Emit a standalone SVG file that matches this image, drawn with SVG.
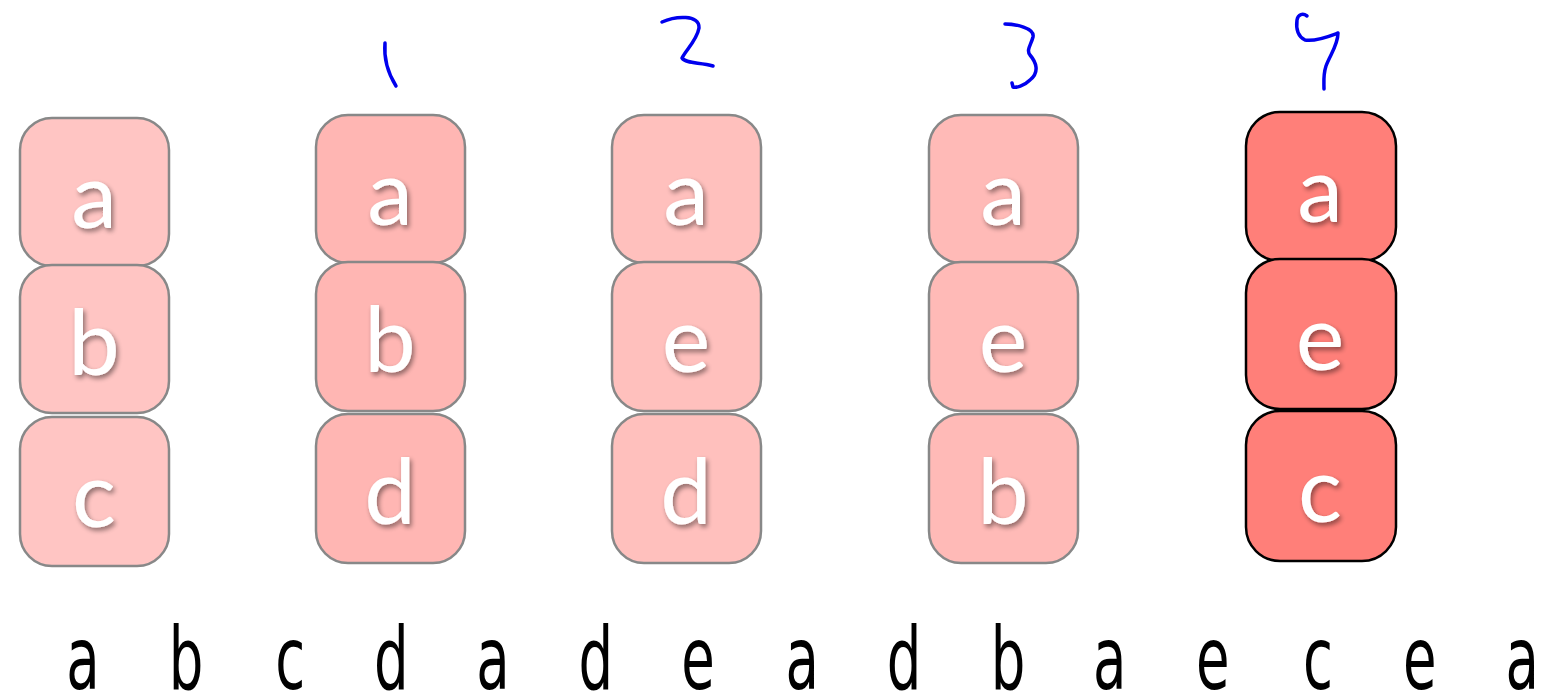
<svg xmlns="http://www.w3.org/2000/svg" width="1550" height="699" viewBox="0 0 1550 699">
<defs>
<filter id="sh" x="-30%" y="-30%" width="160%" height="160%">
<feGaussianBlur in="SourceAlpha" stdDeviation="2.5"/>
<feOffset dx="2" dy="3" result="b"/>
<feComponentTransfer><feFuncA type="linear" slope="0.45"/></feComponentTransfer>
<feMerge><feMergeNode/><feMergeNode in="SourceGraphic"/></feMerge>
</filter>
</defs>
<style>
.bx{stroke:#888888;stroke-width:2.5}
.c1{fill:#ffc5c3}.c2{fill:#ffb6b3}.c3{fill:#ffc0bd}.c4{fill:#ffbab7}
.c5{fill:#ff7f79;stroke:#000;stroke-width:2.5}
.lb{font-family:Lato,"Open Sans",sans-serif;font-size:92px;fill:#fff;text-anchor:middle;filter:url(#sh)}
.hw{fill:none;stroke:#0000ee;stroke-width:3.5;stroke-linecap:round;stroke-linejoin:round}
.sq{font-family:"DejaVu Sans",sans-serif;font-size:88px;fill:#000;text-anchor:middle}
</style>
<g id="col1">
<g id="n1a"><rect class="bx c1" x="20" y="118" width="149" height="148" rx="32"/><text class="lb" x="94" y="228">a</text></g>
<g id="n1b"><rect class="bx c1" x="20" y="265" width="149" height="148" rx="32"/><text class="lb" x="94" y="375">b</text></g>
<g id="n1c"><rect class="bx c1" x="20" y="417" width="149" height="149" rx="32"/><text class="lb" x="94" y="527">c</text></g>
</g>
<g id="col2">
<g id="n2a"><rect class="bx c2" x="316" y="115" width="149" height="148" rx="32"/><text class="lb" x="390" y="225">a</text></g>
<g id="n2b"><rect class="bx c2" x="316" y="262" width="149" height="149" rx="32"/><text class="lb" x="390" y="372">b</text></g>
<g id="n2d"><rect class="bx c2" x="316" y="414" width="149" height="149" rx="32"/><text class="lb" x="390" y="524">d</text></g>
</g>
<g id="col3">
<g id="n3a"><rect class="bx c3" x="612" y="115" width="149" height="148" rx="32"/><text class="lb" x="686" y="225">a</text></g>
<g id="n3e"><rect class="bx c3" x="612" y="262" width="149" height="149" rx="32"/><text class="lb" x="686" y="372">e</text></g>
<g id="n3d"><rect class="bx c3" x="612" y="414" width="149" height="149" rx="32"/><text class="lb" x="686" y="524">d</text></g>
</g>
<g id="col4">
<g id="n4a"><rect class="bx c4" x="929" y="115" width="149" height="148" rx="32"/><text class="lb" x="1003" y="225">a</text></g>
<g id="n4e"><rect class="bx c4" x="929" y="262" width="149" height="149" rx="32"/><text class="lb" x="1003" y="372">e</text></g>
<g id="n4b"><rect class="bx c4" x="929" y="414" width="149" height="149" rx="32"/><text class="lb" x="1003" y="524">b</text></g>
</g>
<g id="col5">
<g id="n5a"><rect class="c5" x="1246" y="112" width="150" height="149" rx="34"/><text class="lb" x="1320" y="222">a</text></g>
<g id="n5e"><rect class="c5" x="1246" y="259" width="150" height="150" rx="34"/><text class="lb" x="1320" y="370">e</text></g>
<g id="n5c"><rect class="c5" x="1246" y="411" width="150" height="150" rx="34"/><text class="lb" x="1320" y="522">c</text></g>
</g>
<g id="marks">
<path class="hw" d="M385,43 C384,55 386,70 396,86"/>
<path class="hw" d="M662,22 C675,16 700,14 699,28 C697,40 686,50 682,58 C686,64 700,62 713,66"/>
<path class="hw" d="M1005,24 C1015,24 1035,28 1033,37 C1031,45 1026,50 1030,55 C1036,62 1040,72 1030,80 C1024,86 1016,88 1013,87 L1012,83"/>
<path class="hw" d="M1307,16 C1303,13 1298,14 1297,20 C1296,28 1297,36 1305,40 C1315,42 1330,36 1338,33 C1338,45 1330,55 1326,66 C1323,75 1324,82 1324,89"/>
</g>
<g id="sequence" transform="scale(0.62,1)">
<text class="sq" x="134" y="689">a</text>
<text class="sq" x="300" y="689">b</text>
<text class="sq" x="468" y="689">c</text>
<text class="sq" x="631" y="689">d</text>
<text class="sq" x="795" y="689">a</text>
<text class="sq" x="961" y="689">d</text>
<text class="sq" x="1126" y="689">e</text>
<text class="sq" x="1294" y="689">a</text>
<text class="sq" x="1458" y="689">d</text>
<text class="sq" x="1626" y="689">b</text>
<text class="sq" x="1790" y="689">a</text>
<text class="sq" x="1956" y="689">e</text>
<text class="sq" x="2126" y="689">c</text>
<text class="sq" x="2290" y="689">e</text>
<text class="sq" x="2455" y="689">a</text>
</g>
</svg>
